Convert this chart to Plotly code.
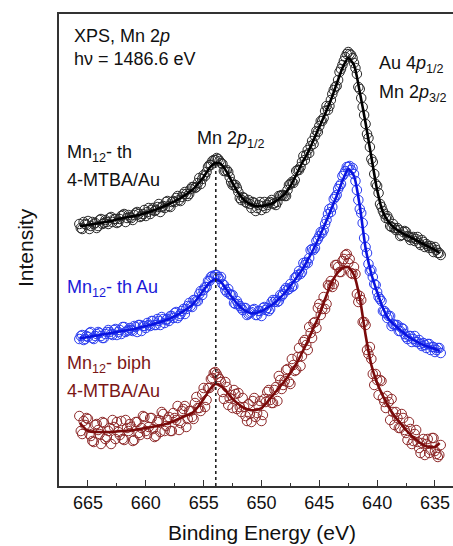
import plotly.graph_objects as go

# ---------------- data ----------------
energy_data = [665.75,665.5,665.25,665.0,664.75,664.5,664.25,664.0,663.75,663.5,
               663.25,663.0,662.75,662.5,662.25,662.0,661.75,661.5,661.25,661.0,
               660.75,660.5,660.25,660.0,659.75,659.5,659.25,659.0,658.75,658.5,
               658.25,658.0,657.75,657.5,657.25,657.0,656.75,656.5,656.25,656.0,
               655.75,655.5,655.25,655.0,654.75,654.5,654.25,654.0,653.75,653.5,
               653.25,653.0,652.75,652.5,652.25,652.0,651.75,651.5,651.25,651.0,
               650.75,650.5,650.25,650.0,649.75,649.5,649.25,649.0,648.75,648.5,
               648.25,648.0,647.75,647.5,647.25,647.0,646.75,646.5,646.25,646.0,
               645.75,645.5,645.25,645.0,644.75,644.5,644.25,644.0,643.75,643.5,
               643.25,643.0,642.75,642.5,642.25,642.0,641.75,641.5,641.25,641.0,
               640.75,640.5,640.25,640.0,639.75,639.5,639.25,639.0,638.75,638.5,
               638.25,638.0,637.75,637.5,637.25,637.0,636.75,636.5,636.25,636.0,
               635.75,635.5,635.25,635.0,634.75,634.5]

energy_data2 = [665.625,665.375,665.125,664.875,664.625,664.375,664.125,663.875,663.625,663.375,
                663.125,662.875,662.625,662.375,662.125,661.875,661.625,661.375,661.125,660.875,
                660.625,660.375,660.125,659.875,659.625,659.375,659.125,658.875,658.625,658.375,
                658.125,657.875,657.625,657.375,657.125,656.875,656.625,656.375,656.125,655.875,
                655.625,655.375,655.125,654.875,654.625,654.375,654.125,653.875,653.625,653.375,
                653.125,652.875,652.625,652.375,652.125,651.875,651.625,651.375,651.125,650.875,
                650.625,650.375,650.125,649.875,649.625,649.375,649.125,648.875,648.625,648.375,
                648.125,647.875,647.625,647.375,647.125,646.875,646.625,646.375,646.125,645.875,
                645.625,645.375,645.125,644.875,644.625,644.375,644.125,643.875,643.625,643.375,
                643.125,642.875,642.625,642.375,642.125,641.875,641.625,641.375,641.125,640.875,
                640.625,640.375,640.125,639.875,639.625,639.375,639.125,638.875,638.625,638.375,
                638.125,637.875,637.625,637.375,637.125,636.875,636.625,636.375,636.125,635.875,
                635.625,635.375,635.125,634.875,634.625]

th_mtba_data = [262,257,262,265,260,262,258,266,262,266,
                262,269,267,263,267,271,264,271,268,271,
                274,269,272,270,278,276,275,279,274,280,
                284,280,284,284,290,285,292,292,292,299,
                298,303,302,311,314,321,325,326,327,323,
                315,316,309,301,301,294,286,288,283,282,
                284,275,281,276,284,281,284,282,281,290,
                291,290,296,302,303,315,316,324,326,336,
                340,342,355,360,365,375,376,386,396,400,
                414,421,429,434,431,423,412,397,379,362,
                348,327,312,300,282,275,268,267,259,258,
                258,250,254,254,249,248,245,249,241,244,
                242,238,238,239,233,231]

th_mtba_data2 = [258,264,261,257,264,263,260,267,263,264,
                 268,264,267,264,270,272,268,269,266,273,
                 272,270,276,274,272,278,276,282,279,278,
                 285,279,285,288,286,289,294,290,297,299,
                 299,308,307,310,319,321,326,328,325,322,
                 315,314,304,301,298,288,289,284,286,278,
                 283,278,284,280,278,283,286,283,284,290,
                 291,290,301,304,306,316,319,330,331,333,
                 345,350,354,365,368,380,380,392,399,406,
                 417,425,432,432,428,418,399,388,371,352,
                 339,324,302,293,279,272,270,260,262,256,
                 256,251,255,250,246,249,247,243,246,239,
                 240,240,234,236,233]

th_au_data = [147,151,147,149,154,147,152,153,148,152,
              156,152,156,151,156,159,154,156,156,160,
              154,161,160,158,161,165,161,167,161,167,
              166,165,170,173,168,172,177,177,183,179,
              186,185,195,196,199,205,210,211,209,209,
              201,194,192,191,182,182,178,178,171,173,
              176,171,175,170,179,178,177,186,186,185,
              190,196,196,202,200,209,215,214,221,223,
              236,236,245,250,253,262,272,274,287,291,
              300,310,315,319,316,312,296,277,263,239,
              222,216,202,194,187,175,173,170,160,161,
              161,155,157,149,150,144,150,144,142,143,
              138,142,139,134,138,133]

th_au_data2 = [150,146,150,153,148,150,154,150,148,154,
               154,151,157,154,152,159,155,158,155,159,
               161,155,160,163,160,165,161,165,169,163,
               167,170,168,174,170,175,172,180,180,186,
               185,192,191,199,205,209,209,211,207,202,
               196,197,191,183,185,180,176,178,172,174,
               177,171,175,178,176,175,184,184,184,191,
               192,198,197,199,208,211,212,223,224,228,
               237,238,247,254,256,266,277,279,289,297,
               302,312,319,320,318,305,286,273,248,233,
               215,209,201,189,185,175,168,170,162,161,
               155,158,152,147,150,147,144,146,140,141,
               142,136,139,136,138]

biph_mtba_data = [70,52,61,67,50,44,62,52,64,47,
                  55,42,59,64,51,47,66,55,59,46,
                  64,51,70,55,59,68,49,64,54,72,
                  60,69,55,68,80,63,77,59,75,69,
                  83,78,75,98,86,98,108,114,109,104,
                  87,99,88,78,92,93,74,79,65,72,
                  85,69,80,65,87,94,86,83,99,110,
                  97,105,117,102,121,116,138,130,146,136,
                  153,163,158,182,177,177,201,205,202,221,
                  214,225,231,223,213,219,192,190,164,161,
                  132,127,101,106,106,88,78,84,87,61,
                  68,58,68,53,64,42,52,44,33,47,
                  42,33,48,35,29,41]

biph_mtba_data2 = [55,65,68,52,45,61,56,42,63,49,
                   58,66,47,54,65,46,58,62,45,64,
                   53,58,69,52,68,57,50,66,74,55,
                   66,55,73,66,56,75,80,67,75,67,
                   89,78,92,79,98,107,113,112,107,94,
                   104,81,91,96,77,79,88,70,82,64,
                   88,73,85,71,84,96,83,96,85,106,
                   101,116,104,127,115,129,120,144,141,159,
                   148,164,178,171,189,182,200,199,221,219,
                   214,227,232,227,212,212,184,186,164,136,
                   139,112,112,91,105,84,90,66,74,74,
                   58,72,56,46,57,45,56,38,43,31,
                   47,36,48,32,31]

energy_fit = [665.7,665,664,663,662,661,660,659,658,657,656,655.5,655,654.5,654,653.5,
              653,652.5,652,651.5,651,650.5,650,649.5,649,648.5,648,647.5,647,646.5,
              646,645.5,645,644.5,644,643.5,643,642.5,642,641.5,641,640.5,640,639.5,
              639,638.5,638,637.5,637,636.5,636,635.5,635,634.6]

th_mtba_fit = [260,261,263,265,268,270,273,277,282,288,296,302,309,318,323,322,
               314,303,293,286,282,280,280,281,283,287,292,300,311,323,333,346,
               359,372,386,402,418,428,421,394,363,329,296,274,264,258,254,251,
               248,245,242,239,236,233]

th_au_fit = [148,149,151,153,155,157,160,163,167,173,181,188,196,203,207,204,
             196,188,181,176,173,173,175,178,182,187,193,200,208,216,226,237,
             249,262,276,290,305,317,310,280,238,212,194,178,167,161,156,151,
             147,144,141,139,137,135]

biph_mtba_fit = [63,55,54,54,55,56,58,60,63,68,73,79,87,96,102,100,
                 94,87,82,78,76,76,78,84,91,98,105,113,122,133,145,158,
                 171,187,202,212,218,219,211,188,151,121,103,90,79,70,63,56,
                 50,45,41,39,39,43]

mn_2p12_position = 653.95
dotted_line_top = 321

x_ticks = [665, 660, 655, 650, 645, 640, 635]

# ---------------- figure ----------------
FONT = "Liberation Sans, Arial, sans-serif"
BLACK_M, BLACK_L = "#2a2a2a", "#000000"
BLUE_M, BLUE_L = "#2a3cf0", "#0a14e0"
RED_M, RED_L = "#8e2a2a", "#7a0a0a"

fig = go.Figure()

series = [
    (th_mtba_data, th_mtba_data2, th_mtba_fit, BLACK_M, BLACK_L),
    (th_au_data, th_au_data2, th_au_fit, BLUE_M, BLUE_L),
    (biph_mtba_data, biph_mtba_data2, biph_mtba_fit, RED_M, RED_L),
]
for d1, d2, fit, mcol, lcol in series:
    fig.add_trace(go.Scatter(
        x=energy_data + energy_data2, y=d1 + d2, mode="markers",
        marker=dict(symbol="circle-open", size=9.5, color=mcol, line=dict(width=1, color=mcol)),
        showlegend=False, hoverinfo="skip"))
for d1, d2, fit, mcol, lcol in series:
    fig.add_trace(go.Scatter(
        x=energy_fit, y=fit, mode="lines",
        line=dict(color=lcol, width=2.6, shape="spline", smoothing=0.6),
        showlegend=False, hoverinfo="skip"))

fig.add_shape(type="line", xref="x", yref="y",
              x0=mn_2p12_position, x1=mn_2p12_position, y0=0, y1=dotted_line_top,
              line=dict(color="#222222", width=1.6, dash="dot"))

def px_x(px):
    return (px - 59) / 394.0

def px_y(py):
    return (486 - py) / 472.0

labels = [
    ("XPS, Mn 2<i>p</i>", 72, 36, "#111111"),
    ("hν = 1486.6 eV", 72, 59, "#111111"),
    ("Au 4<i>p</i><sub>1/2</sub>", 377, 64, "#111111"),
    ("Mn 2<i>p</i><sub>3/2</sub>", 377, 93, "#111111"),
    ("Mn 2<i>p</i><sub>1/2</sub>", 195, 140, "#111111"),
    ("Mn<sub>12</sub>- th", 65, 153, "#111111"),
    ("4-MTBA/Au", 65, 180, "#111111"),
    ("Mn<sub>12</sub>- th Au", 65, 288, "#1a1ad8"),
    ("Mn<sub>12</sub>- biph", 65, 364, "#7a1616"),
    ("4-MTBA/Au", 65, 391, "#7a1616"),
]
for text, lx, ly, col in labels:
    fig.add_annotation(text=text, xref="paper", yref="paper", x=px_x(lx), y=px_y(ly),
                       xanchor="left", yanchor="middle", showarrow=False,
                       font=dict(family=FONT, size=18, color=col))

fig.add_annotation(text="Binding Energy (eV)", xref="paper", yref="paper",
                   x=px_x(262), y=px_y(532), xanchor="center", yanchor="middle",
                   showarrow=False, font=dict(family=FONT, size=21, color="#111111"))
fig.add_annotation(text="Intensity", xref="paper", yref="paper",
                   x=px_x(25), y=px_y(248), xanchor="center", yanchor="middle",
                   textangle=-90, showarrow=False, font=dict(family=FONT, size=21, color="#111111"))

fig.update_layout(
    width=453, height=546,
    margin=dict(l=59, r=0, t=14, b=60),
    paper_bgcolor="white", plot_bgcolor="white",
    font=dict(family=FONT, size=18, color="#111111"),
    xaxis=dict(range=[667.507, 633.44], tickvals=x_ticks, ticks="inside", ticklen=6,
               tickwidth=1.2, tickcolor="#333333",
               minor=dict(ticks="inside", ticklen=3, dtick=2.5, tick0=635, tickcolor="#333333", tickwidth=1.2),
               showline=True, linecolor="#333333", linewidth=1.6, mirror=True,
               showgrid=False, zeroline=False,
               tickfont=dict(family=FONT, size=18, color="#111111")),
    yaxis=dict(range=[0, 472], showticklabels=False, ticks="", showline=True,
               linecolor="#333333", linewidth=1.6, mirror=False,
               showgrid=False, zeroline=False),
)

fig.write_html("out.html", config={"displayModeBar": False},
               post_script="document.body.style.margin='0px';document.body.style.overflow='hidden';")
